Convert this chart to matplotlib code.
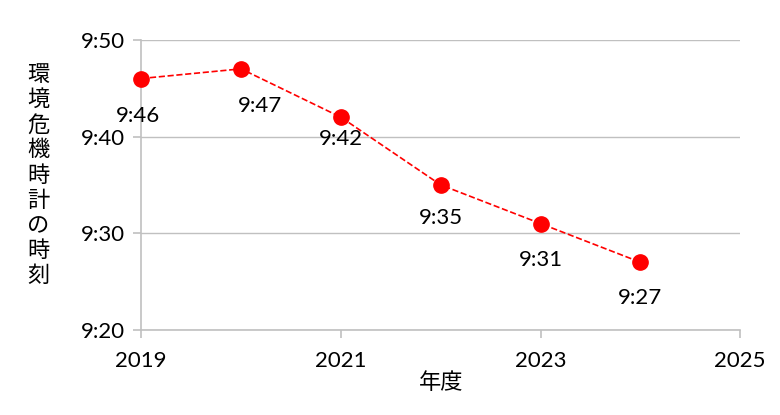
import matplotlib.pyplot as plt
from matplotlib.ticker import FuncFormatter, MultipleLocator

plt.rcParams['font.family'] = ['Lato', 'Noto Sans CJK JP', 'DejaVu Sans']

years = [2019, 2020, 2021, 2022, 2023, 2024]
times = ['9:46', '9:47', '9:42', '9:35', '9:31', '9:27']
# 分単位に換算
minutes = [int(t.split(':')[0]) * 60 + int(t.split(':')[1]) for t in times]
xticks = [2019, 2021, 2023, 2025]
label_offsets = [(-2, -27), (14, -27), (0, -16), (0, -24), (0, -26), (0, -26)]


def fmt_time(v, pos):
    v = int(round(v))
    return '%d:%02d' % (v // 60, v % 60)


fig = plt.figure(figsize=(7.8, 4.15), dpi=100)
ax = fig.add_axes([0.181, 0.205, 0.768, 0.699])

ax.plot(years, minutes, color='#ff0000', linestyle='--', linewidth=1.2,
        marker='o', markersize=11, zorder=3, clip_on=False)
for x, y, t, off in zip(years, minutes, times, label_offsets):
    ax.annotate(t, (x, y), xytext=off, textcoords='offset points',
                ha='center', va='center', fontsize=16)

ax.set_xlim(2019, 2025)
ax.set_ylim(560, 590)
ax.set_xticks(xticks)
ax.yaxis.set_major_locator(MultipleLocator(10))
ax.yaxis.set_major_formatter(FuncFormatter(fmt_time))
ax.grid(axis='y', color='#c0c0c0', linewidth=1)
ax.set_axisbelow(True)
for s in ['top', 'right']:
    ax.spines[s].set_visible(False)
for s in ['left', 'bottom']:
    ax.spines[s].set_color('#c0c0c0')
    ax.spines[s].set_linewidth(1.2)
ax.tick_params(colors='#c0c0c0', labelcolor='black', labelsize=16,
               length=6, width=1.2)
ax.tick_params(axis='x', pad=9)
ax.tick_params(axis='y', pad=6)

ax.set_xlabel('年度', fontsize=16, family=['Noto Sans CJK JP'], labelpad=0)
fig.text(0.049, 0.578, '\n'.join('環境危機時計の時刻'), fontsize=16,
         family=['Noto Sans CJK JP'], ha='center', va='center',
         linespacing=1.12)

fig.savefig('out.png', dpi=100)
